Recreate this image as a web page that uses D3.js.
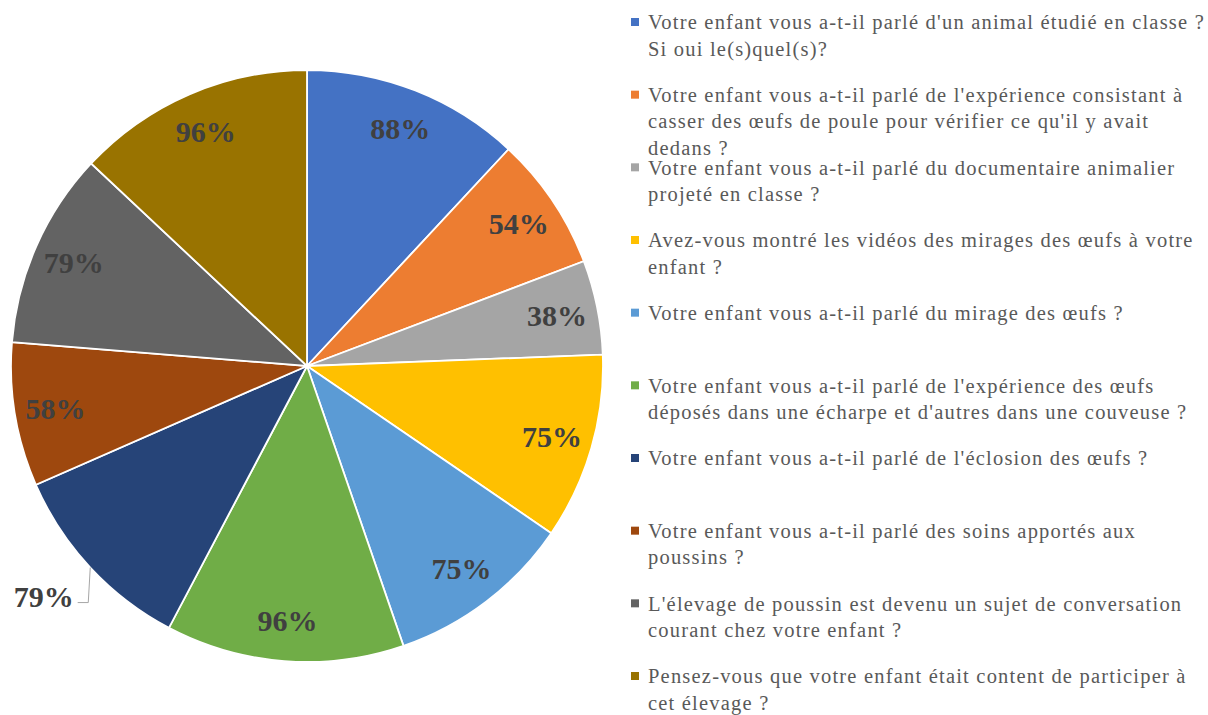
<!DOCTYPE html>
<html>
<head>
<meta charset="utf-8">
<script src="https://cdn.jsdelivr.net/npm/d3@7"></script>
<style>
  body { margin: 0; background: #fff; }
  svg text { font-family: "Liberation Serif", "Times New Roman", serif; }
</style>
</head>
<body>
<div id="chart"></div>
<script>
// questions (legend), in pie order, \n marks where the legend wraps
const questions = [
  "Votre enfant vous a-t-il parlé d'un animal étudié en classe ?\nSi oui le(s)quel(s)?",
  "Votre enfant vous a-t-il parlé de l'expérience consistant à\ncasser des œufs de poule pour vérifier ce qu'il y avait\ndedans ?",
  "Votre enfant vous a-t-il parlé du documentaire animalier\nprojeté en classe ?",
  "Avez-vous montré les vidéos des mirages des œufs à votre\nenfant ?",
  "Votre enfant vous a-t-il parlé du mirage des œufs ?",
  "Votre enfant vous a-t-il parlé de l'expérience des œufs\ndéposés dans une écharpe et d'autres dans une couveuse ?",
  "Votre enfant vous a-t-il parlé de l'éclosion des œufs ?",
  "Votre enfant vous a-t-il parlé des soins apportés aux\npoussins ?",
  "L'élevage de poussin est devenu un sujet de conversation\ncourant chez votre enfant ?",
  "Pensez-vous que votre enfant était content de participer à\ncet élevage ?"
]
// share of "oui" answers, in %
const values = [88, 54, 38, 75, 75, 96, 79, 58, 79, 96]
const colors = ["#4472C4", "#ED7D31", "#A5A5A5", "#FFC000", "#5B9BD5",
                "#70AD47", "#264478", "#9E480E", "#636363", "#997300"]
// slice whose label sits outside with a leader line
const outsideLabels = [6]

const width = 1208, height = 715
const cx = 307, cy = 366, radius = 296

const data = values.map((v, i) => ({question: questions[i], value: v, color: colors[i], i: i}))

const svg = d3.select("#chart")
  .append("svg")
    .attr("width", width)
    .attr("height", height)

const g = svg.append("g")
    .attr("transform", `translate(${cx}, ${cy})`)

const pie = d3.pie()
    .sort(null)
    .value(d => d.value)

const arc = d3.arc()
    .innerRadius(0)
    .outerRadius(radius)

const labelArc = d3.arc()
    .innerRadius(255)
    .outerRadius(255)

const outerArc = d3.arc()
    .innerRadius(radius)
    .outerRadius(radius)

const arcs = pie(data)

// slices
g.append("g")
  .selectAll("path")
  .data(arcs)
  .join("path")
    .attr("fill", d => d.data.color)
    .attr("stroke", "#fff")
    .attr("stroke-width", 1.8)
    .attr("d", arc)

// inside labels
g.append("g")
  .selectAll("text")
  .data(arcs.filter(d => !outsideLabels.includes(d.data.i)))
  .join("text")
    .attr("transform", d => `translate(${labelArc.centroid(d)})`)
    .attr("text-anchor", "middle")
    .attr("dy", "0.35em")
    .style("font-size", "30px")
    .style("font-weight", "bold")
    .attr("fill", "#404040")
    .text(d => d.data.value + "%")

// outside labels with leader lines
const outG = g.append("g")
arcs.filter(d => outsideLabels.includes(d.data.i)).forEach(d => {
  const mid = (d.startAngle + d.endAngle) / 2
  const p0 = outerArc.centroid(d)
  const p1 = d3.pointRadial(mid + 0.03, 350)
  const lblRight = p1[0] + 32
  const lineY = p1[1] + 6
  outG.append("path")
    .attr("fill", "none")
    .attr("stroke", "#A6A6A6")
    .attr("stroke-width", 1)
    .attr("d", `M${p0[0]},${p0[1]} L${p0[0] - 2},${lineY} L${lblRight + 2},${lineY}`)
  outG.append("text")
    .attr("x", p1[0])
    .attr("y", p1[1])
    .attr("text-anchor", "middle")
    .attr("dy", "0.35em")
    .style("font-size", "30px")
    .style("font-weight", "bold")
    .attr("fill", "#404040")
    .text(d.data.value + "%")
})

// legend
const rowY = d3.scalePoint()
    .domain(d3.range(data.length))
    .range([22, 676])

const legend = svg.append("g")
  .selectAll("g")
  .data(data)
  .join("g")
    .attr("transform", d => `translate(631, ${rowY(d.i)})`)

legend.append("rect")
    .attr("x", 0)
    .attr("y", -4)
    .attr("width", 8)
    .attr("height", 8)
    .attr("fill", d => d.color)

legend.append("text")
    .attr("x", 17)
    .attr("y", 0)
    .style("font-size", "20.5px")
    .style("letter-spacing", "1.2px")
    .attr("fill", "#595959")
  .selectAll("tspan")
  .data(d => d.question.split("\n"))
  .join("tspan")
    .attr("x", 17)
    .attr("dy", (t, j) => j === 0 ? "0.35em" : "26.5px")
    .text(t => t)
</script>
</body>
</html>
